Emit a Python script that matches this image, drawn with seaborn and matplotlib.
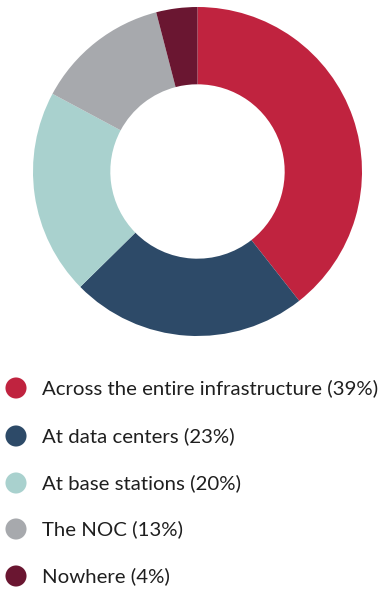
import matplotlib
matplotlib.use("Agg")
import matplotlib.pyplot as plt
import seaborn as sns
import pandas as pd

categories = ["Across the entire infrastructure", "At data centers", "At base stations", "The NOC", "Nowhere"]
values = [39, 23, 20, 13, 4]
colors = ["#C0233F", "#2D4A68", "#A9D1CE", "#A7A9AD", "#6A1631"]

sns.set_theme(style="white")
plt.rcParams['font.family'] = ['Lato', 'DejaVu Sans']

W, H = 389, 591
fig = plt.figure(figsize=(W / 100, H / 100), dpi=100)

# Donut
cx, cy, r = 197.5, 171.5, 164.5
ax = fig.add_axes([(cx - r) / W, (H - cy - r) / H, 2 * r / W, 2 * r / H])
ax.pie(values, colors=colors, startangle=90, counterclock=False, radius=1,
       wedgeprops=dict(width=0.47, edgecolor="none"))
ax.set_xlim(-1, 1)
ax.set_ylim(-1, 1)
ax.set_aspect("equal")
ax.axis("off")

# Legend
lax = fig.add_axes([0, 0, 1, 1])
ys = [388, 436, 483, 529, 576]
df = pd.DataFrame({"x": [16] * len(categories), "y": ys, "cat": categories})
sns.scatterplot(data=df, x="x", y="y", hue="cat", palette=colors, s=230,
                edgecolor="none", legend=False, ax=lax)
lax.set_xlim(0, W)
lax.set_ylim(H, 0)
lax.axis("off")
for y, c, v in zip(ys, categories, values):
    lax.text(42, y, f"{c} ({v}%)", fontsize=14.7, color="#1f1f1f", va="center", ha="left")

fig.savefig("out.png", dpi=100, facecolor="white")
